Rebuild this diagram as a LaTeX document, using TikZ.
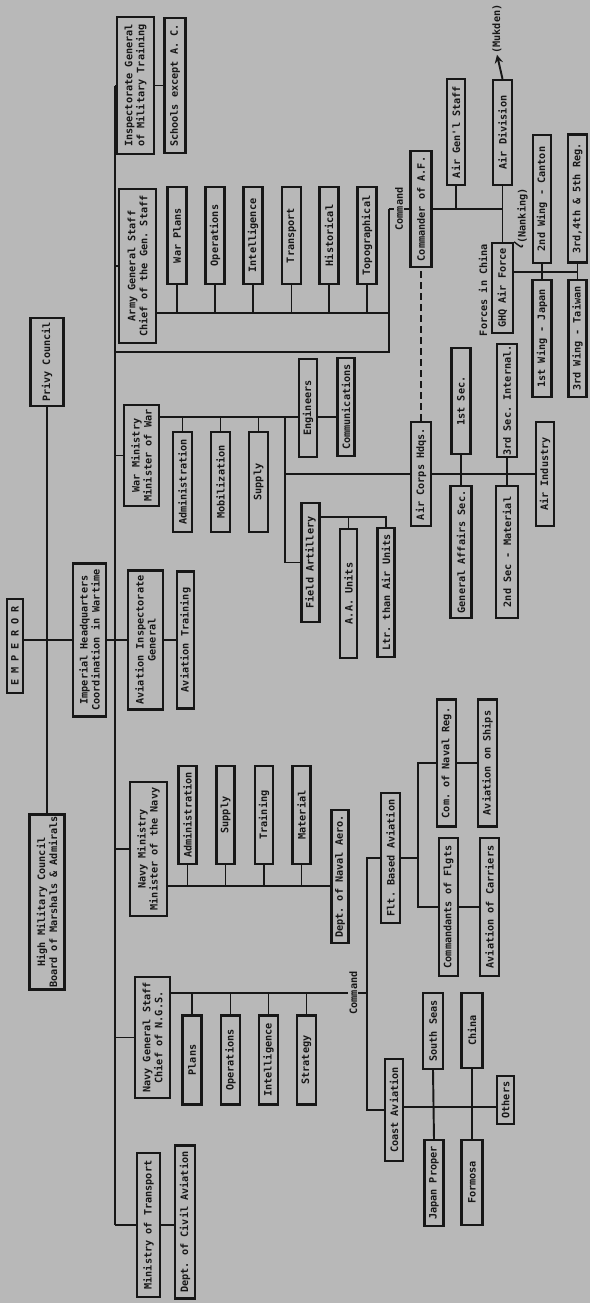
\documentclass[tikz,border=0pt]{standalone}
\usepackage{fontspec}
\setmonofont{DejaVu Sans Mono}
\usepackage{tikz}
\usetikzlibrary{arrows, positioning, calc}
\definecolor{paper}{HTML}{B8B8B8}
\definecolor{ink}{HTML}{171717}
\newcommand{\chartfont}{\fontsize{5.8}{6.8}\selectfont\ttfamily\bfseries}
\tikzstyle{unit} = [rectangle, draw=ink, line width=1.3pt, fill=paper, text=ink, rotate=90, inner sep=0.6pt, align=center, font=\chartfont]
\tikzstyle{link} = [draw=ink, line width=1.1pt]
\tikzstyle{tag} = [rotate=90, inner sep=0.5pt, text=ink, font=\chartfont]
\tikzset{boxsize/.style 2 args={minimum width=#1*0.2mm, minimum height=#2*0.2mm}}

\begin{document}
\begin{tikzpicture}[x=0.2mm, y=-0.2mm]
    % Hoja
    \fill [paper] (0,0) rectangle (590,1303);

    % Nivel superior
    \node (emperor) [unit, boxsize={94}{16}] at (15,646) {E M P E R O R};
    \node (privy) [unit, boxsize={88}{33}] at (47,362) {Privy Council};
    \node (himil) [unit, boxsize={175}{35}] at (47,902) {High Military Council\\Board of Marshals \& Admirals};
    \node (imphq) [unit, boxsize={153}{33}] at (89.5,640) {Imperial Headquarters\\Coordination in Wartime};
    \node (aviainsp) [unit, boxsize={139}{35}] at (145.5,640) {Aviation Inspectorate\\General};
    \node (aviatrain) [unit, boxsize={137}{17}] at (185.5,640) {Aviation Training};

    % Ejercito
    \node (inspgen) [unit, boxsize={137}{37}] at (135.5,85.5) {Inspectorate General\\of Military Training};
    \node (schools) [unit, boxsize={135}{21}] at (175,85.5) {Schools except A. C.};
    \node (armygs) [unit, boxsize={154}{37}] at (137.5,266) {Army General Staff\\Chief of the Gen. Staff};
    \foreach \n/\x/\t in {warplans/177/War Plans, agsops/215/Operations, agsintel/253/Intelligence,
        agstrans/291.5/Transport, agshist/329/Historical, agstopo/367/Topographical}
        \node (\n) [unit, boxsize={97}{19}] at (\x,235.5) {\t};
    \node (warmin) [unit, boxsize={101}{35}] at (141.5,455.5) {War Ministry\\Minister of War};
    \foreach \n/\x/\t in {wmadmin/182.5/Administration, wmmobil/220.5/Mobilization, wmsupply/258.5/Supply}
        \node (\n) [unit, boxsize={100}{19}] at (\x,482) {\t};
    \node (engin) [unit, boxsize={98}{18}] at (308,408) {Engineers};
    \node (commun) [unit, boxsize={98}{17}] at (346,407) {Communications};
    \node (fieldart) [unit, boxsize={119}{18}] at (310.5,562.5) {Field Artillery};
    \node (aaunits) [unit, boxsize={129}{17}] at (348.5,593.5) {A.A. Units};
    \node (ltrair) [unit, boxsize={129}{17}] at (386,592.5) {Ltr. than Air Units};

    % Cuerpo aereo
    \node (aircorps) [unit, boxsize={104}{20}] at (421,474) {Air Corps Hdqs.};
    \node (sec1) [unit, boxsize={106}{19}] at (461,401) {1st Sec.};
    \node (sec3) [unit, boxsize={107}{20}] at (507,400.5) {3rd Sec. Internal.};
    \node (genaff) [unit, boxsize={132}{21}] at (461,552) {General Affairs Sec.};
    \node (sec2) [unit, boxsize={132}{22}] at (507,552) {2nd Sec - Material};
    \node (airind) [unit, boxsize={104}{18}] at (545,474) {Air Industry};

    % Fuerza aerea
    \node (cmdaf) [unit, boxsize={116}{21}] at (421,209) {Commander of A.F.};
    \node (airgen) [unit, boxsize={106}{18}] at (456,132) {Air Gen'l Staff};
    \node (airdiv) [unit, boxsize={105}{19}] at (502.5,132.5) {Air Division};
    \node (manchu) [tag] at (497,29) {(Mukden)};
    \node (ghqaf) [unit, boxsize={90}{21}] at (502.5,288) {GHQ Air Force};
    \node (chinanote) [tag] at (483,290) {Forces in China};
    \node (nanking) [tag] at (522.5,216) {(Nanking)};
    \node (wing2) [unit, boxsize={128}{18}] at (542,199) {2nd Wing - Canton};
    \node (wing345) [unit, boxsize={128}{19}] at (577.5,198.5) {3rd,4th \& 5th Reg.};
    \node (wing1) [unit, boxsize={117}{19}] at (542,338.5) {1st Wing - Japan};
    \node (wing3) [unit, boxsize={117}{18}] at (577.5,338.5) {3rd Wing - Taiwan};

    % Marina
    \node (navymin) [unit, boxsize={134}{37}] at (148.5,849) {Navy Ministry\\Minister of the Navy};
    \foreach \n/\x/\t in {nmadmin/187.5/Administration, nmsupply/225.5/Supply, nmtrain/264/Training, nmmat/301.5/Material}
        \node (\n) [unit, boxsize={98}{18}] at (\x,815) {\t};
    \node (deptaero) [unit, boxsize={133}{17}] at (340,876.5) {Dept. of Naval Aero.};
    \node (navygs) [unit, boxsize={121}{35}] at (152.5,1037.5) {Navy General Staff\\Chief of N.G.S.};
    \foreach \n/\x/\t in {ngsplans/192/Plans, ngsops/230.5/Operations, ngsintel/268.5/Intelligence, ngsstrat/306.5/Strategy}
        \node (\n) [unit, boxsize={89}{19}] at (\x,1060) {\t};
    \node (fltbased) [unit, boxsize={130}{19}] at (390.5,858) {Flt. Based Aviation};
    \node (comnaval) [unit, boxsize={127}{19}] at (446.5,763) {Com. of Naval Reg.};
    \node (aviaships) [unit, boxsize={127}{19}] at (487.5,763) {Aviation on Ships};
    \node (cmdtflgts) [unit, boxsize={138}{19}] at (448.5,907) {Commandants of Flgts};
    \node (aviacarr) [unit, boxsize={138}{19}] at (489.5,907) {Aviation of Carriers};
    \node (coastav) [unit, boxsize={102}{18}] at (394,1110) {Coast Aviation};
    \node (southseas) [unit, boxsize={76}{20}] at (433,1031) {South Seas};
    \node (china) [unit, boxsize={75}{21}] at (472,1030.5) {China};
    \node (japan) [unit, boxsize={86}{19}] at (434,1183) {Japan Proper};
    \node (formosa) [unit, boxsize={85}{21}] at (472,1182.5) {Formosa};
    \node (others) [unit, boxsize={48}{17}] at (505.5,1100) {Others};

    % Transporte
    \node (transmin) [unit, boxsize={144}{23}] at (148.5,1225) {Ministry of Transport};
    \node (civilav) [unit, boxsize={153}{20}] at (185,1222) {Dept. of Civil Aviation};

    % Lineas superiores
    \draw [link] (privy.west) -- (himil.east);
    \draw [link] (emperor.south |- imphq.north) -- (imphq.north);
    \draw [link] (imphq.south) -- (aviainsp.north);
    \draw [link] (aviainsp.south) -- (aviatrain.north);

    % Linea principal
    \coordinate (mtop) at (115,85.5);
    \coordinate (mbot) at (115,1225);
    \draw [link] (mtop) -- (mbot);
    \draw [link] (mtop) -- (inspgen.north);
    \draw [link] (inspgen.south) -- (schools.north);
    \draw [link] (mtop |- armygs.north) -- (armygs.north);
    \draw [link] (mtop |- warmin.north) -- (warmin.north);
    \draw [link] (mtop |- navymin.north) -- (navymin.north);
    \draw [link] (mtop |- navygs.north) -- (navygs.north);
    \draw [link] (mbot) -- (transmin.north);
    \draw [link] (transmin.south) -- (civilav.north |- transmin.south);

    % Estado mayor del ejercito
    \coordinate (agsbus) at (389,313);
    \coordinate (cmdjoin) at (389,209);
    \coordinate (armylow) at (389,352);
    \draw [link] (armygs.south |- agsbus) -- (agsbus);
    \foreach \n in {warplans, agsops, agsintel, agstrans, agshist, agstopo}
        \draw [link] (\n.west) -- (\n.west |- agsbus);
    \draw [link] (mtop |- armylow) -- (armylow) -- (cmdjoin);
    \draw [link] (cmdjoin) -- node (cmdtag) [tag, fill=paper] {Command} (cmdaf.north);
    \draw [link] (cmdaf.south) -- (airdiv.west |- cmdaf.south);
    \draw [link] (airgen.west) -- (airgen.west |- cmdaf.south);
    \draw [link] (airdiv.west) -- (ghqaf.east);
    \draw [link, ->, >=stealth] (airdiv.east) -- (manchu.west);
    \draw [link, line width=0.8pt] (nanking.west) .. controls (522,248) .. (ghqaf.south east);
    \coordinate (wingbus) at (577.5,272);
    \draw [link] (ghqaf.south |- wingbus) -- (wingbus);
    \draw [link] (wing2.west) -- (wing1.east);
    \draw [link] (wing345.west) -- (wing3.east);
    \draw [link, dash pattern=on 1.4mm off 0.8mm] (aircorps.east) -- (cmdaf.west);

    % Ministerio de guerra
    \coordinate (wmbus) at (285,417);
    \draw [link] (warmin.south |- wmbus) -- (engin.north |- wmbus);
    \foreach \n in {wmadmin, wmmobil, wmsupply}
        \draw [link] (\n.east) -- (\n.east |- wmbus);
    \draw [link] (engin.south |- wmbus) -- (commun.north |- wmbus);
    \draw [link] (wmbus) -- (wmbus |- fieldart.north) -- (fieldart.north);
    \coordinate (aclink) at (285,474);
    \draw [link] (aclink) -- (aircorps.north);
    \draw [link] (aircorps.south) -- (airind.north);
    \draw [link] (sec1.west) -- (genaff.east);
    \draw [link] (sec3.west) -- (sec2.east);
    \coordinate (fabus) at (386,517);
    \draw [link] (fieldart.south |- fabus) -- (fabus) -- (ltrair.east);
    \draw [link] (aaunits.east) -- (aaunits.east |- fabus);

    % Ministerio de marina
    \coordinate (nmbus) at (332,886);
    \draw [link] (navymin.south |- nmbus) -- (deptaero.north |- nmbus);
    \foreach \n in {nmadmin, nmsupply, nmtrain, nmmat}
        \draw [link] (\n.west) -- (\n.west |- nmbus);

    % Estado mayor naval
    \coordinate (ngsbus) at (367,993);
    \draw [link] (navygs.south |- ngsbus) -- node (cmdtagn) [tag, fill=paper, pos=0.93] {Command} (ngsbus);
    \foreach \n in {ngsplans, ngsops, ngsintel, ngsstrat}
        \draw [link] (\n.east) -- (\n.east |- ngsbus);
    \draw [link] (fltbased.north) -- (fltbased.north -| ngsbus) -- (ngsbus |- coastav.north) -- (coastav.north);
    \coordinate (fltjoin) at (418,858);
    \draw [link] (fltbased.south) -- (fltjoin);
    \draw [link] (comnaval.north) -- (comnaval.north -| fltjoin) -- (cmdtflgts.north -| fltjoin) -- (cmdtflgts.north);
    \draw [link] (comnaval.south) -- (aviaships.north);
    \draw [link] (cmdtflgts.south) -- (aviacarr.north);
    \coordinate (coastbus) at (497,1107);
    \draw [link] (coastav.south |- coastbus) -- (coastbus);
    \draw [link] (southseas.west) -- (japan.east);
    \draw [link] (china.west) -- (formosa.east);
\end{tikzpicture}
\end{document}
